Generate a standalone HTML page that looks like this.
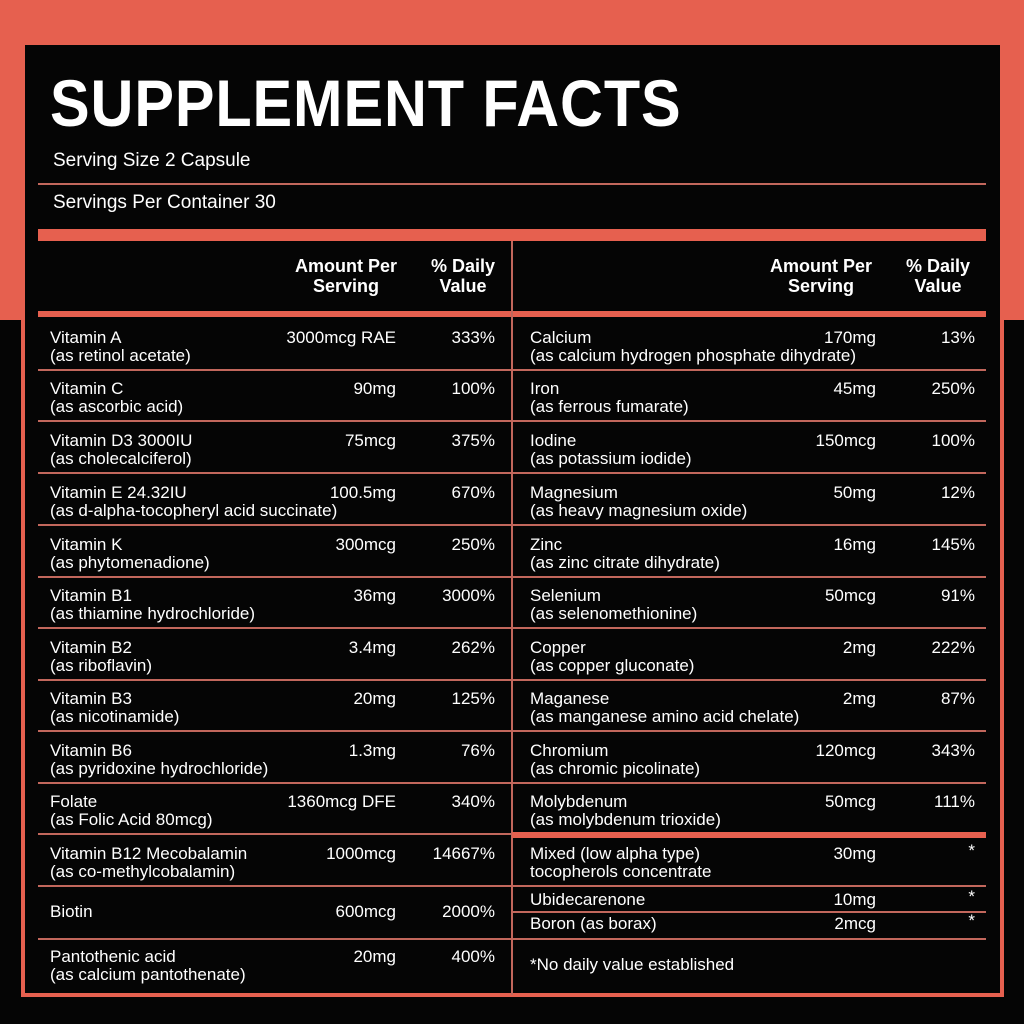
<!DOCTYPE html>
<html><head><style>
body{margin:0;width:1024px;height:1024px;position:relative;background:#050505;overflow:hidden;font-family:"Liberation Sans",sans-serif;color:#fff}
.a{position:absolute}
.t{position:absolute;font-size:17px;line-height:18px;white-space:nowrap}
.r{text-align:right}
.h{position:absolute;font-size:18px;line-height:20px;font-weight:bold;text-align:center;white-space:nowrap}
.ln{position:absolute;height:2px;background:#c2675c}
</style></head><body>
<div class="a" style="left:0;top:0;width:1024px;height:320px;background:#e6604f"></div>
<div class="a" style="left:21px;top:45px;width:975px;height:948px;background:#050505;border:4px solid #e6604f;border-top:none"></div>
<div class="a" style="left:50px;top:68px;font-size:66px;line-height:70px;font-weight:bold;white-space:nowrap;transform:scaleX(0.9);transform-origin:0 0;letter-spacing:1px">SUPPLEMENT FACTS</div>
<div class="t" style="left:53px;top:150px;font-size:19px;line-height:22px">Serving Size 2 Capsule</div>
<div class="ln" style="left:38px;top:183px;width:948px"></div>
<div class="t" style="left:53px;top:192px;font-size:19px;line-height:22px">Servings Per Container 30</div>
<div class="a" style="left:38px;top:229px;width:948px;height:12px;background:#e6604f"></div>
<div class="a" style="left:38px;top:311px;width:948px;height:6px;background:#e6604f"></div>
<div class="a" style="left:511px;top:241px;width:2px;height:754px;background:#c2675c"></div>
<div class="h" style="left:276px;top:256px;width:140px">Amount Per<br>Serving</div>
<div class="h" style="left:413px;top:256px;width:100px">% Daily<br>Value</div>
<div class="h" style="left:751px;top:256px;width:140px">Amount Per<br>Serving</div>
<div class="h" style="left:888px;top:256px;width:100px">% Daily<br>Value</div>
<!-- left lines -->
<div class="ln" style="left:38px;top:369px;width:474px"></div>
<div class="ln" style="left:38px;top:420px;width:474px"></div>
<div class="ln" style="left:38px;top:472px;width:474px"></div>
<div class="ln" style="left:38px;top:524px;width:474px"></div>
<div class="ln" style="left:38px;top:576px;width:474px"></div>
<div class="ln" style="left:38px;top:627px;width:474px"></div>
<div class="ln" style="left:38px;top:679px;width:474px"></div>
<div class="ln" style="left:38px;top:730px;width:474px"></div>
<div class="ln" style="left:38px;top:782px;width:474px"></div>
<div class="ln" style="left:38px;top:833px;width:474px"></div>
<div class="ln" style="left:38px;top:885px;width:474px"></div>
<div class="ln" style="left:38px;top:938px;width:474px"></div>
<!-- right lines -->
<div class="ln" style="left:512px;top:369px;width:474px"></div>
<div class="ln" style="left:512px;top:420px;width:474px"></div>
<div class="ln" style="left:512px;top:472px;width:474px"></div>
<div class="ln" style="left:512px;top:524px;width:474px"></div>
<div class="ln" style="left:512px;top:576px;width:474px"></div>
<div class="ln" style="left:512px;top:627px;width:474px"></div>
<div class="ln" style="left:512px;top:679px;width:474px"></div>
<div class="ln" style="left:512px;top:730px;width:474px"></div>
<div class="ln" style="left:512px;top:782px;width:474px"></div>
<div class="a" style="left:512px;top:832px;width:474px;height:6px;background:#e6604f"></div>
<div class="ln" style="left:512px;top:885px;width:474px"></div>
<div class="ln" style="left:512px;top:911px;width:474px"></div>
<div class="ln" style="left:512px;top:938px;width:474px"></div>

<!-- left rows -->
<div class="t" style="left:50px;top:329px">Vitamin A<br>(as retinol acetate)</div><div class="t r" style="right:628px;top:329px">3000mcg RAE</div><div class="t r" style="right:529px;top:329px">333%</div>
<div class="t" style="left:50px;top:380px">Vitamin C<br>(as ascorbic acid)</div><div class="t r" style="right:628px;top:380px">90mg</div><div class="t r" style="right:529px;top:380px">100%</div>
<div class="t" style="left:50px;top:432px">Vitamin D3 3000IU<br>(as cholecalciferol)</div><div class="t r" style="right:628px;top:432px">75mcg</div><div class="t r" style="right:529px;top:432px">375%</div>
<div class="t" style="left:50px;top:484px">Vitamin E 24.32IU<br>(as d-alpha-tocopheryl acid succinate)</div><div class="t r" style="right:628px;top:484px">100.5mg</div><div class="t r" style="right:529px;top:484px">670%</div>
<div class="t" style="left:50px;top:536px">Vitamin K<br>(as phytomenadione)</div><div class="t r" style="right:628px;top:536px">300mcg</div><div class="t r" style="right:529px;top:536px">250%</div>
<div class="t" style="left:50px;top:587px">Vitamin B1<br>(as thiamine hydrochloride)</div><div class="t r" style="right:628px;top:587px">36mg</div><div class="t r" style="right:529px;top:587px">3000%</div>
<div class="t" style="left:50px;top:639px">Vitamin B2<br>(as riboflavin)</div><div class="t r" style="right:628px;top:639px">3.4mg</div><div class="t r" style="right:529px;top:639px">262%</div>
<div class="t" style="left:50px;top:690px">Vitamin B3<br>(as nicotinamide)</div><div class="t r" style="right:628px;top:690px">20mg</div><div class="t r" style="right:529px;top:690px">125%</div>
<div class="t" style="left:50px;top:742px">Vitamin B6<br>(as pyridoxine hydrochloride)</div><div class="t r" style="right:628px;top:742px">1.3mg</div><div class="t r" style="right:529px;top:742px">76%</div>
<div class="t" style="left:50px;top:793px">Folate<br>(as Folic Acid 80mcg)</div><div class="t r" style="right:628px;top:793px">1360mcg DFE</div><div class="t r" style="right:529px;top:793px">340%</div>
<div class="t" style="left:50px;top:845px">Vitamin B12 Mecobalamin<br>(as co-methylcobalamin)</div><div class="t r" style="right:628px;top:845px">1000mcg</div><div class="t r" style="right:529px;top:845px">14667%</div>
<div class="t" style="left:50px;top:903px">Biotin</div><div class="t r" style="right:628px;top:903px">600mcg</div><div class="t r" style="right:529px;top:903px">2000%</div>
<div class="t" style="left:50px;top:948px">Pantothenic acid<br>(as calcium pantothenate)</div><div class="t r" style="right:628px;top:948px">20mg</div><div class="t r" style="right:529px;top:948px">400%</div>

<!-- right rows -->
<div class="t" style="left:530px;top:329px">Calcium<br>(as calcium hydrogen phosphate dihydrate)</div><div class="t r" style="right:148px;top:329px">170mg</div><div class="t r" style="right:49px;top:329px">13%</div>
<div class="t" style="left:530px;top:380px">Iron<br>(as ferrous fumarate)</div><div class="t r" style="right:148px;top:380px">45mg</div><div class="t r" style="right:49px;top:380px">250%</div>
<div class="t" style="left:530px;top:432px">Iodine<br>(as potassium iodide)</div><div class="t r" style="right:148px;top:432px">150mcg</div><div class="t r" style="right:49px;top:432px">100%</div>
<div class="t" style="left:530px;top:484px">Magnesium<br>(as heavy magnesium oxide)</div><div class="t r" style="right:148px;top:484px">50mg</div><div class="t r" style="right:49px;top:484px">12%</div>
<div class="t" style="left:530px;top:536px">Zinc<br>(as zinc citrate dihydrate)</div><div class="t r" style="right:148px;top:536px">16mg</div><div class="t r" style="right:49px;top:536px">145%</div>
<div class="t" style="left:530px;top:587px">Selenium<br>(as selenomethionine)</div><div class="t r" style="right:148px;top:587px">50mcg</div><div class="t r" style="right:49px;top:587px">91%</div>
<div class="t" style="left:530px;top:639px">Copper<br>(as copper gluconate)</div><div class="t r" style="right:148px;top:639px">2mg</div><div class="t r" style="right:49px;top:639px">222%</div>
<div class="t" style="left:530px;top:690px">Maganese<br>(as manganese amino acid chelate)</div><div class="t r" style="right:148px;top:690px">2mg</div><div class="t r" style="right:49px;top:690px">87%</div>
<div class="t" style="left:530px;top:742px">Chromium<br>(as chromic picolinate)</div><div class="t r" style="right:148px;top:742px">120mcg</div><div class="t r" style="right:49px;top:742px">343%</div>
<div class="t" style="left:530px;top:793px">Molybdenum<br>(as molybdenum trioxide)</div><div class="t r" style="right:148px;top:793px">50mcg</div><div class="t r" style="right:49px;top:793px">111%</div>
<div class="t" style="left:530px;top:845px">Mixed (low alpha type)<br>tocopherols concentrate</div><div class="t r" style="right:148px;top:845px">30mg</div><div class="t r" style="right:49px;top:842px">*</div>
<div class="t" style="left:530px;top:891px">Ubidecarenone</div><div class="t r" style="right:148px;top:891px">10mg</div><div class="t r" style="right:49px;top:888px">*</div>
<div class="t" style="left:530px;top:915px">Boron (as borax)</div><div class="t r" style="right:148px;top:915px">2mcg</div><div class="t r" style="right:49px;top:912px">*</div>
<div class="t" style="left:530px;top:956px">*No daily value established</div>
</body></html>
